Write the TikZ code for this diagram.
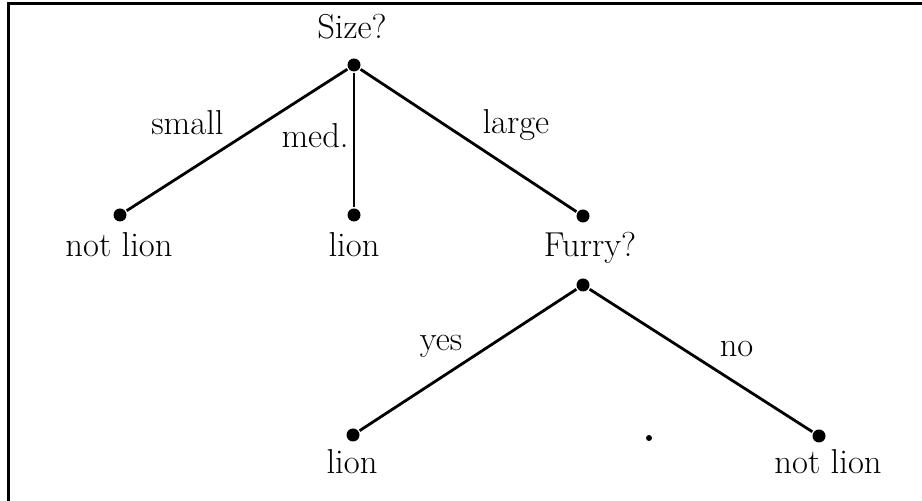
\documentclass[tikz,border=0pt]{standalone}
\begin{document}
\begin{tikzpicture}[x=0.5pt,y=-0.5pt,line width=1.4pt,
  font=\fontsize{17.3}{21}\selectfont,
  dot/.style={circle,fill,inner sep=0pt,minimum size=6.5pt},
  txt/.style={anchor=base,inner sep=0pt},
  lbl/.style={inner sep=2pt}]
\useasboundingbox (0,0) rectangle (922,501);
\draw[line width=1.5pt] (8,501) -- (8,4) -- (922,4);
% dots
\node[dot] (size) at (354,65) {};
\node[dot] (nl1) at (120,215) {};
\node[dot] (l1) at (354,215) {};
\node[dot] (furry) at (583,216) {};
\node[dot] (furry2) at (583,285) {};
\node[dot] (l2) at (353,435) {};
\node[dot] (nl2) at (819,436) {};
% texts
\node[txt] (tsize) at (352,39) {Size?};
\node[txt] (tnl1) at (119,257) {not lion};
\node[txt] (tl1) at (354,257) {lion};
\node[txt] (tfurry) at (590,257) {Furry?};
\node[txt] (tl2) at (352,474) {lion};
\node[txt] (tnl2) at (828,474) {not lion};
% edges
\draw (size) -- node[lbl,pos=0.5,above left,xshift=-4pt]{small} (nl1);
\draw (size) -- node[lbl,pos=0.47,left]{med.} (l1);
\draw (size) -- node[lbl,pos=0.54,above right]{large} (furry);
\draw (furry2) -- node[lbl,pos=0.52,above left,xshift=2pt]{yes} (l2);
\draw (furry2) -- node[lbl,pos=0.56,above right,yshift=3.5pt]{no} (nl2);
\fill (649,438) circle (1.5pt);
\end{tikzpicture}
\end{document}
